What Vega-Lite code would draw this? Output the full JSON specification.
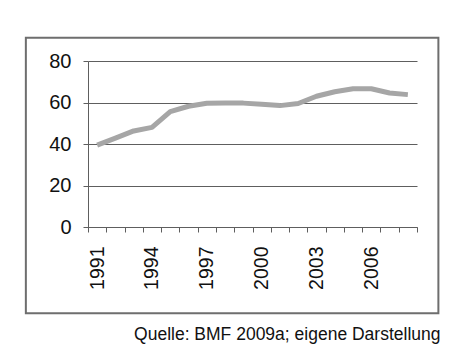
{
  "$schema": "https://vega.github.io/schema/vega-lite/v6.json",
  "autosize": {"type": "none"},
  "padding": {"left": 88, "top": 61, "right": 53, "bottom": 131},
  "width": 329,
  "height": 166,
  "background": "white",
  "config": {
    "view": {"stroke": null},
    "font": "Liberation Sans",
    "axis": {"labelFont": "Liberation Sans", "titleFont": "Liberation Sans", "labelOverlap": false}
  },
  "resolve": {"axis": {"x": "independent", "y": "independent"}},
  "layer": [
    {
      "data": {"values": [
        {"year": 1991, "value": 39.5},
        {"year": 1992, "value": 42.8},
        {"year": 1993, "value": 46.3},
        {"year": 1994, "value": 48.0},
        {"year": 1995, "value": 55.6},
        {"year": 1996, "value": 58.2},
        {"year": 1997, "value": 59.6},
        {"year": 1998, "value": 59.7},
        {"year": 1999, "value": 59.7},
        {"year": 2000, "value": 59.2},
        {"year": 2001, "value": 58.5},
        {"year": 2002, "value": 59.5},
        {"year": 2003, "value": 63.0},
        {"year": 2004, "value": 65.2},
        {"year": 2005, "value": 66.6},
        {"year": 2006, "value": 66.6},
        {"year": 2007, "value": 64.6},
        {"year": 2008, "value": 63.8}
      ]},
      "mark": {"type": "line", "color": "#a6a6a6", "strokeWidth": 5, "strokeCap": "butt", "strokeJoin": "round"},
      "encoding": {
        "x": {
          "field": "year",
          "type": "quantitative",
          "scale": {"domain": [1990.5, 2008.5], "nice": false, "zero": false},
          "axis": {
            "values": [1990.5, 1991.5, 1992.5, 1993.5, 1994.5, 1995.5, 1996.5, 1997.5, 1998.5, 1999.5, 2000.5, 2001.5, 2002.5, 2003.5, 2004.5, 2005.5, 2006.5, 2007.5, 2008.5],
            "labelExpr": "((datum.value - 1990.5) % 3 == 0 && datum.value < 2008) ? format(datum.value + 0.5, 'd') : ''",
            "labelAngle": -90,
            "labelOffset": 9.14,
            "labelFlush": false,
            "labelOverlap": false,
            "labelBound": false,
            "labelFontSize": 19.5,
            "labelColor": "#111111",
            "labelPadding": 14,
            "ticks": true,
            "tickSize": 5,
            "tickWidth": 1,
            "tickColor": "#5e5e5e",
            "domainColor": "#5e5e5e",
            "grid": false,
            "title": "Quelle: BMF 2009a; eigene Darstellung",
            "titleX": 352,
            "titleY": 112,
            "titleAlign": "right",
            "titleBaseline": "alphabetic",
            "titleFontSize": 17.5,
            "titleFontWeight": "normal",
            "titleColor": "#111111"
          }
        },
        "y": {
          "field": "value",
          "type": "quantitative",
          "scale": {"domain": [0, 80], "nice": false},
          "axis": {
            "values": [0, 20, 40, 60, 80],
            "grid": true,
            "gridColor": "#5e5e5e",
            "gridOpacity": 1,
            "domainColor": "#5e5e5e",
            "ticks": true,
            "tickColor": "#5e5e5e",
            "tickSize": 5,
            "tickWidth": 1,
            "labelFontSize": 20,
            "labelColor": "#111111",
            "labelPadding": 12,
            "title": null
          }
        }
      }
    },
    {
      "data": {"values": [{"x1": 1987.1, "x2": 2009.67, "y1": -41.6, "y2": 91.2}]},
      "mark": {"type": "rect", "clip": false, "fill": null, "stroke": "#6e6e6e", "strokeWidth": 2},
      "encoding": {
        "x": {"field": "x1", "type": "quantitative", "axis": null},
        "x2": {"field": "x2"},
        "y": {"field": "y1", "type": "quantitative", "axis": null},
        "y2": {"field": "y2"}
      }
    }
  ]
}
